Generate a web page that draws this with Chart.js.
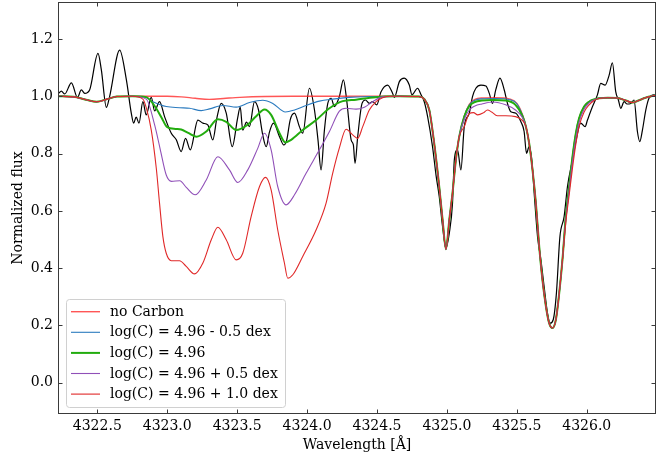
<!DOCTYPE html>
<html><head><meta charset="utf-8">
<script src="https://cdn.jsdelivr.net/npm/chart.js@4"></script>
<style>html,body{margin:0;padding:0;background:#fff}</style>
</head><body>
<canvas id="c" width="671" height="458"></canvas>
<script>
// ---------------- DATA ----------------
const xMin = 4322.219, xMax = 4326.495;
const yMin = -0.109, yMax = 1.329;
const xTicks = [4322.5, 4323.0, 4323.5, 4324.0, 4324.5, 4325.0, 4325.5, 4326.0];
const yTicks = [0.0, 0.2, 0.4, 0.6, 0.8, 1.0, 1.2];
const seriesLabels = ['no Carbon', 'log(C) = 4.96 - 0.5 dex', 'log(C) = 4.96', 'log(C) = 4.96 + 0.5 dex', 'log(C) = 4.96 + 1.0 dex'];

// observed spectrum [wavelength, normalized flux]
const observed = [
[4322.224,1.010],[4322.243,1.018],[4322.267,1.008],[4322.315,1.047],[4322.358,0.996],[4322.386,1.022],
[4322.410,1.010],[4322.445,1.022],[4322.505,1.150],[4322.529,1.092],[4322.565,0.961],[4322.588,0.999],
[4322.660,1.161],[4322.708,1.057],[4322.743,0.941],[4322.760,0.906],[4322.778,0.927],[4322.798,0.906],
[4322.826,0.981],[4322.850,0.935],[4322.886,0.996],[4322.910,0.949],[4322.945,0.981],[4322.981,0.929],
[4323.029,0.871],[4323.065,0.848],[4323.100,0.807],[4323.131,0.853],[4323.165,0.813],[4323.219,0.917],
[4323.255,0.906],[4323.290,0.900],[4323.326,0.848],[4323.355,0.924],[4323.386,0.975],[4323.422,0.941],
[4323.465,0.824],[4323.503,0.923],[4323.522,0.962],[4323.540,0.882],[4323.567,0.910],[4323.588,0.894],
[4323.624,0.981],[4323.653,0.952],[4323.683,0.865],[4323.708,0.824],[4323.731,0.875],[4323.760,0.906],
[4323.803,0.859],[4323.833,0.830],[4323.855,0.848],[4323.879,0.917],[4323.910,0.941],[4323.945,0.894],
[4323.969,0.871],[4324.017,1.028],[4324.053,0.952],[4324.078,0.848],[4324.100,0.743],[4324.124,0.882],
[4324.148,0.975],[4324.172,0.993],[4324.195,0.964],[4324.231,0.999],[4324.260,1.057],[4324.283,0.987],
[4324.315,0.848],[4324.331,0.830],[4324.343,0.766],[4324.362,0.859],[4324.393,0.975],[4324.417,0.987],
[4324.445,0.975],[4324.469,0.981],[4324.498,0.970],[4324.529,1.016],[4324.576,1.039],[4324.612,1.010],
[4324.624,0.996],[4324.660,1.051],[4324.695,1.063],[4324.731,1.039],[4324.750,1.005],[4324.790,1.028],
[4324.815,1.005],[4324.838,0.981],[4324.862,0.929],[4324.897,0.824],[4324.922,0.725],[4324.945,0.650],
[4324.969,0.545],[4324.993,0.470],[4325.017,0.522],[4325.040,0.627],[4325.053,0.778],[4325.076,0.813],
[4325.100,0.743],[4325.124,0.894],[4325.160,0.941],[4325.183,0.999],[4325.207,1.028],[4325.243,1.039],
[4325.279,1.036],[4325.303,1.010],[4325.326,0.975],[4325.349,1.022],[4325.379,1.063],[4325.410,1.022],
[4325.433,0.975],[4325.457,0.946],[4325.493,0.941],[4325.529,0.911],[4325.552,0.877],[4325.569,0.801],
[4325.588,0.824],[4325.607,0.778],[4325.624,0.662],[4325.648,0.510],[4325.672,0.429],[4325.695,0.336],
[4325.719,0.243],[4325.738,0.208],[4325.760,0.220],[4325.783,0.313],[4325.808,0.510],[4325.838,0.580],
[4325.862,0.685],[4325.898,0.778],[4325.922,0.842],[4325.957,0.906],[4325.988,0.894],[4326.005,0.917],
[4326.041,0.964],[4326.076,1.005],[4326.100,1.045],[4326.131,1.039],[4326.160,1.074],[4326.183,1.117],
[4326.207,1.016],[4326.226,0.987],[4326.243,0.958],[4326.267,0.981],[4326.288,0.973],[4326.315,0.975],
[4326.338,0.987],[4326.362,0.877],[4326.379,0.842],[4326.398,0.882],[4326.422,0.952],[4326.445,0.993],
[4326.481,1.005],[4326.495,1.001]
];

// synthetic spectra: parts shared by every model
const continuumLeft = [[4322.22,1.0],[4322.33,0.998],[4322.42,0.988],[4322.495,0.981],[4322.57,0.990],[4322.64,0.999],[4322.75,1.0]];
const lineOneCore = [[4324.66,1.0],[4324.80,0.999],[4324.838,0.990],[4324.874,0.952],[4324.909,0.836],[4324.945,0.685],[4324.969,0.569],
  [4324.993,0.466],[4325.017,0.569],[4325.040,0.662],[4325.064,0.778],[4325.088,0.859]];
const lineTwoCore = [[4325.565,0.894],[4325.588,0.836],[4325.612,0.743],[4325.636,0.627],[4325.660,0.475],[4325.683,0.359],[4325.708,0.266],
  [4325.731,0.208],[4325.755,0.191],[4325.779,0.220],[4325.803,0.313],[4325.826,0.429]];
const lineTwoWing = [[4325.850,0.580],[4325.874,0.685],[4325.898,0.789],[4325.922,0.871],[4325.945,0.923],[4325.981,0.964],[4326.017,0.981],[4326.053,0.989],[4326.088,0.993]];
const lineTwoWingPlus05 = [[4325.850,0.570],[4325.874,0.672],[4325.898,0.772],[4325.922,0.853],[4325.945,0.910],[4325.981,0.955],[4326.017,0.977],[4326.053,0.988],[4326.088,0.993]];
const lineTwoWingPlus10 = [[4325.850,0.560],[4325.874,0.655],[4325.898,0.750],[4325.922,0.834],[4325.945,0.895],[4325.981,0.945],[4326.017,0.970],[4326.053,0.985],[4326.088,0.992]];
const continuumRight = [[4326.15,0.995],[4326.22,0.994],[4326.28,0.985],[4326.326,0.978],[4326.37,0.985],[4326.42,0.995],[4326.495,1.003]];

// carbon region per model
const carbonNone = [[4322.85,1.0],[4323.0,1.0],[4323.10,0.998],[4323.20,0.993],[4323.30,0.989],[4323.42,0.993],[4323.52,0.996],[4323.70,0.999],[4323.90,1.0],[4324.20,1.0],[4324.45,1.0]];
const carbonMinus05 = [[4322.83,0.999],[4322.898,0.981],[4322.993,0.964],[4323.088,0.960],[4323.16,0.958],[4323.243,0.950],[4323.303,0.956],[4323.398,0.968],
  [4323.493,0.962],[4323.588,0.978],[4323.683,0.986],[4323.755,0.975],[4323.845,0.945],[4323.910,0.952],[4323.993,0.968],[4324.088,0.983],[4324.183,0.990],[4324.30,0.996],[4324.45,0.999]];
const carbonBest = [[4322.85,0.997],[4322.91,0.966],[4322.96,0.925],[4323.00,0.892],[4323.06,0.886],[4323.10,0.884],[4323.15,0.872],[4323.208,0.859],[4323.279,0.877],
  [4323.362,0.920],[4323.422,0.911],[4323.493,0.882],[4323.565,0.897],[4323.636,0.930],[4323.695,0.954],[4323.743,0.935],[4323.803,0.871],[4323.845,0.839],
  [4323.886,0.848],[4323.969,0.882],[4324.065,0.917],[4324.160,0.958],[4324.255,0.983],[4324.35,0.988],[4324.45,0.995]];
const carbonPlus05 = [[4322.85,0.990],[4322.91,0.900],[4322.95,0.815],[4322.993,0.725],[4323.03,0.703],[4323.09,0.705],[4323.136,0.682],[4323.20,0.656],[4323.279,0.708],
  [4323.362,0.789],[4323.445,0.743],[4323.505,0.699],[4323.576,0.743],[4323.648,0.819],[4323.695,0.871],[4323.743,0.813],[4323.790,0.685],[4323.850,0.621],
  [4323.910,0.656],[4323.993,0.731],[4324.088,0.813],[4324.160,0.877],[4324.231,0.948],[4324.279,0.958],[4324.35,0.955],[4324.41,0.962],[4324.469,0.981],[4324.54,0.998]];
const carbonPlus10 = [[4322.826,0.990],[4322.85,0.960],[4322.886,0.882],[4322.922,0.748],[4322.945,0.627],[4322.969,0.510],[4322.993,0.452],[4323.029,0.426],
  [4323.088,0.426],[4323.136,0.406],[4323.195,0.380],[4323.255,0.418],[4323.315,0.499],[4323.362,0.543],[4323.422,0.499],[4323.493,0.429],[4323.540,0.452],
  [4323.600,0.580],[4323.660,0.685],[4323.703,0.717],[4323.743,0.673],[4323.790,0.534],[4323.838,0.418],[4323.862,0.365],[4323.898,0.377],[4323.969,0.441],
  [4324.065,0.534],[4324.136,0.627],[4324.183,0.731],[4324.231,0.820],[4324.279,0.885],[4324.326,0.865],[4324.362,0.853],[4324.398,0.894],[4324.445,0.952],
  [4324.493,0.981],[4324.540,0.995],[4324.60,1.0]];

// region between the two strong lines per model
const midNone = [[4325.124,0.930],[4325.160,0.972],[4325.20,0.989],[4325.25,0.994],[4325.35,0.995],[4325.45,0.990],[4325.50,0.975],[4325.541,0.935]];
const midMinus05 = [[4325.124,0.930],[4325.160,0.970],[4325.20,0.986],[4325.25,0.991],[4325.35,0.992],[4325.45,0.988],[4325.50,0.974],[4325.541,0.933]];
const midBest = [[4325.124,0.929],[4325.160,0.966],[4325.20,0.980],[4325.25,0.985],[4325.33,0.987],[4325.42,0.985],[4325.49,0.970],[4325.541,0.930]];
const midPlus05 = [[4325.124,0.920],[4325.160,0.952],[4325.20,0.966],[4325.25,0.973],[4325.33,0.980],[4325.42,0.970],[4325.49,0.952],[4325.541,0.925]];
const midPlus10 = [[4325.124,0.894],[4325.160,0.940],[4325.19,0.943],[4325.22,0.935],[4325.26,0.942],[4325.29,0.952],[4325.32,0.945],[4325.36,0.932],
  [4325.42,0.932],[4325.49,0.929],[4325.541,0.915]];

const modelNone = [...continuumLeft, ...carbonNone, ...lineOneCore, ...midNone, ...lineTwoCore, ...lineTwoWing, ...continuumRight];
const modelMinus05 = [...continuumLeft, ...carbonMinus05, ...lineOneCore, ...midMinus05, ...lineTwoCore, ...lineTwoWing, ...continuumRight];
const modelBest = [...continuumLeft, ...carbonBest, ...lineOneCore, ...midBest, ...lineTwoCore, ...lineTwoWing, ...continuumRight];
const modelPlus05 = [...continuumLeft, ...carbonPlus05, ...lineOneCore, ...midPlus05, ...lineTwoCore, ...lineTwoWingPlus05, ...continuumRight];
const modelPlus10 = [...continuumLeft, ...carbonPlus10, ...lineOneCore, ...midPlus10, ...lineTwoCore, ...lineTwoWingPlus10, ...continuumRight];

// ---------------- CHART ----------------
const FONT = "'DejaVu Serif', 'Liberation Serif', serif";
const toXY = arr => arr.map(p => ({x: p[0], y: p[1]}));
const mk = (label, data, color, width, order) => ({
  label, data: toXY(data), showLine: true, borderColor: color, backgroundColor: color,
  borderWidth: width, pointRadius: 0, fill: false, cubicInterpolationMode: 'monotone', order
});
const datasets = [
  mk('observed', observed, '#000000', 1.2, 6),
  mk(seriesLabels[0], modelNone, 'rgba(255,30,30,0.75)', 1.4, 5),
  mk(seriesLabels[1], modelMinus05, '#2b7bbf', 1.1, 4),
  mk(seriesLabels[2], modelBest, '#22ac0e', 2.0, 3),
  mk(seriesLabels[3], modelPlus05, '#9050b8', 1.1, 2),
  mk(seriesLabels[4], modelPlus10, '#e02828', 1.1, 1)
];

const framePlugin = {
  id: 'frame',
  afterDatasetsDraw(chart) {
    const {ctx, chartArea: a, scales: {x, y}} = chart;
    ctx.save();
    ctx.strokeStyle = '#3a3a3a'; ctx.lineWidth = 1;
    const L = Math.round(a.left) + 0.5, R = Math.round(a.right) - 0.5;
    const T = Math.round(a.top) + 0.5, B = Math.round(a.bottom) - 0.5;
    ctx.strokeRect(L, T, R - L, B - T);
    ctx.beginPath();
    xTicks.forEach(v => {
      const px = Math.round(x.getPixelForValue(v)) + 0.5;
      ctx.moveTo(px, B); ctx.lineTo(px, B - 4);
      ctx.moveTo(px, T); ctx.lineTo(px, T + 4);
    });
    yTicks.forEach(v => {
      const py = Math.round(y.getPixelForValue(v)) + 0.5;
      ctx.moveTo(L, py); ctx.lineTo(L + 4, py);
      ctx.moveTo(R, py); ctx.lineTo(R - 4, py);
    });
    ctx.stroke();
    ctx.restore();
  }
};

const legendPlugin = {
  id: 'boxLegend',
  afterDraw(chart) {
    const {ctx} = chart;
    const bx = 66.5, by = 299.5, bw = 219, bh = 108, r = 3;
    ctx.save();
    ctx.beginPath();
    ctx.moveTo(bx + r, by); ctx.lineTo(bx + bw - r, by); ctx.quadraticCurveTo(bx + bw, by, bx + bw, by + r);
    ctx.lineTo(bx + bw, by + bh - r); ctx.quadraticCurveTo(bx + bw, by + bh, bx + bw - r, by + bh);
    ctx.lineTo(bx + r, by + bh); ctx.quadraticCurveTo(bx, by + bh, bx, by + bh - r);
    ctx.lineTo(bx, by + r); ctx.quadraticCurveTo(bx, by, bx + r, by);
    ctx.closePath();
    ctx.fillStyle = 'rgba(255,255,255,0.85)'; ctx.fill();
    ctx.strokeStyle = '#d0d0d0'; ctx.lineWidth = 1; ctx.stroke();
    ctx.font = '14px ' + FONT; ctx.fillStyle = '#000'; ctx.textBaseline = 'middle'; ctx.textAlign = 'left';
    const ds = chart.data.datasets.slice(1);
    ds.forEach((d, i) => {
      const yy = 311.7 + i * 20.6;
      ctx.beginPath(); ctx.strokeStyle = d.borderColor; ctx.lineWidth = d.borderWidth;
      ctx.moveTo(71, yy); ctx.lineTo(100, yy); ctx.stroke();
      ctx.fillText(d.label, 110, yy + 0.5);
    });
    ctx.restore();
  }
};

new Chart(document.getElementById('c').getContext('2d'), {
  type: 'scatter',
  data: {datasets},
  options: {
    responsive: false, animation: false, devicePixelRatio: 1,
    layout: {padding: {top: 2, right: 15, left: 0, bottom: 0}},
    plugins: {legend: {display: false}, tooltip: {enabled: false}},
    scales: {
      x: {
        type: 'linear', min: xMin, max: xMax,
        grid: {display: false, drawTicks: false, tickLength: 0}, border: {display: false},
        afterBuildTicks: s => { s.ticks = xTicks.map(v => ({value: v})); },
        ticks: {font: {family: FONT, size: 14}, color: '#000', padding: 4, maxRotation: 0, autoSkip: false, callback: v => Number(v).toFixed(1)},
        title: {display: true, text: 'Wavelength [Å]', font: {family: FONT, size: 14}, color: '#000', padding: {top: 0, bottom: 4}},
        afterFit: s => { s.height = 44; s.paddingLeft = 0; s.paddingRight = 0; }
      },
      y: {
        type: 'linear', min: yMin, max: yMax,
        grid: {display: false, drawTicks: false, tickLength: 0}, border: {display: false},
        afterBuildTicks: s => { s.ticks = yTicks.map(v => ({value: v})); },
        ticks: {font: {family: FONT, size: 14}, color: '#000', padding: 5, autoSkip: false, callback: v => Number(v).toFixed(1)},
        title: {display: true, text: 'Normalized flux', font: {family: FONT, size: 14}, color: '#000', padding: {top: 10, bottom: 0}},
        afterFit: s => { s.width = 58; s.paddingTop = 0; s.paddingBottom = 0; }
      }
    }
  },
  plugins: [framePlugin, legendPlugin]
});
</script>
</body></html>
